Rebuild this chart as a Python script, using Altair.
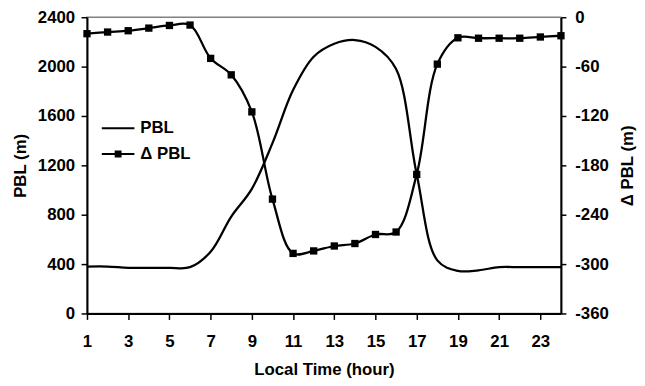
import altair as alt
import pandas as pd

hours = list(range(1, 25))
pbl = [380, 380, 370, 370, 370, 375, 500, 785, 1010, 1380, 1810, 2080, 2185, 2215, 2160, 1980,
       1128, 430, 345, 350, 375, 375, 375, 375]
dpbl = [-20, -18, -16.4, -13.2, -10, -9.5, -50, -70, -115, -221, -287, -284, -278, -275, -264,
        -261, -191, -57, -25, -25.5, -25.5, -25.5, -24, -22.5]
series_names = ["PBL", "\u0394 PBL"]
x_ticks = [1, 3, 5, 7, 9, 11, 13, 15, 17, 19, 21, 23]
left_ticks = [0, 400, 800, 1200, 1600, 2000, 2400]
right_ticks = [0, -60, -120, -180, -240, -300, -360]

df = pd.DataFrame({"hour": hours, "pbl": pbl, "dpbl": dpbl})
leg = pd.DataFrame({"series": series_names})

FONT = "Liberation Sans"

x_enc = alt.X(
    "hour:Q",
    scale=alt.Scale(domain=[1, 24], nice=False, zero=False),
    axis=alt.Axis(
        values=x_ticks, title="Local Time (hour)", labelFlush=False, grid=False,
        tickSize=6, labelPadding=14, titleBaseline="alphabetic", titleY=62,
    ),
)

pbl_line = alt.Chart(df).mark_line(
    color="black", strokeWidth=2.3, interpolate="catmull-rom"
).encode(
    x=x_enc,
    y=alt.Y(
        "pbl:Q",
        scale=alt.Scale(domain=[0, 2400], nice=False),
        axis=alt.Axis(
            orient="left", values=left_ticks, title="PBL (m)", grid=False, format="d",
            tickSize=6, labelPadding=6.5, titleAngle=270, titleBaseline="alphabetic",
            titleX=-62, titleY=150,
        ),
    ),
)

dpbl_line = alt.Chart(df).mark_line(
    color="black", strokeWidth=2.3, interpolate="catmull-rom",
    point=alt.OverlayMarkDef(shape="square", size=55, filled=True, color="black", opacity=1),
).encode(
    x=x_enc,
    y=alt.Y(
        "dpbl:Q",
        scale=alt.Scale(domain=[-360, 0], nice=False),
        axis=alt.Axis(
            orient="right", values=right_ticks, title="\u0394 PBL (m)", grid=False,
            labelExpr="'' + datum.value",
            tickSize=5, labelPadding=9, titleAngle=270, titleBaseline="alphabetic",
            titleX=72, titleY=150,
        ),
    ),
)

# legend glyphs (unit box -1..1): a plain line, and a line with a small square
line_path = "M-1,0H1"
line_square_path = ("M-1,0H1"
                    "M-0.15,-0.15H0.15V0.15H-0.15Z"
                    "M-0.15,-0.07H0.15M-0.15,0.07H0.15")

legend_layer = alt.Chart(leg).mark_point(
    filled=False, color="black", strokeWidth=2, opacity=1
).encode(
    x=alt.value(-300),
    y=alt.value(-300),
    shape=alt.Shape(
        "series:N",
        scale=alt.Scale(domain=series_names, range=[line_path, line_square_path]),
        legend=alt.Legend(
            title=None, orient="none", legendX=14, legendY=95, padding=0,
            symbolSize=1089, symbolStrokeWidth=2, symbolStrokeColor="black",
            symbolOpacity=1, labelOffset=5, rowPadding=-3,
            labelFont=FONT, labelFontSize=17, labelFontWeight="bold", labelColor="black",
        ),
    ),
)

chart = alt.layer(pbl_line, dpbl_line, legend_layer).resolve_scale(
    y="independent"
).properties(
    width=480, height=300,
    padding={"left": 80, "top": 7, "right": 77, "bottom": 63},
    autosize=alt.AutoSizeParams(type="none"),
).configure_view(
    stroke="#808080", strokeWidth=1.5
).configure_axis(
    labelFont=FONT, labelFontSize=17, labelFontWeight="bold", labelColor="black",
    titleFont=FONT, titleFontSize=17, titleFontWeight="bold", titleColor="black",
    domainColor="black", domainWidth=2, tickColor="black", tickWidth=1.5,
)

chart.save("out.html", embed_options={"renderer": "svg", "actions": False})
